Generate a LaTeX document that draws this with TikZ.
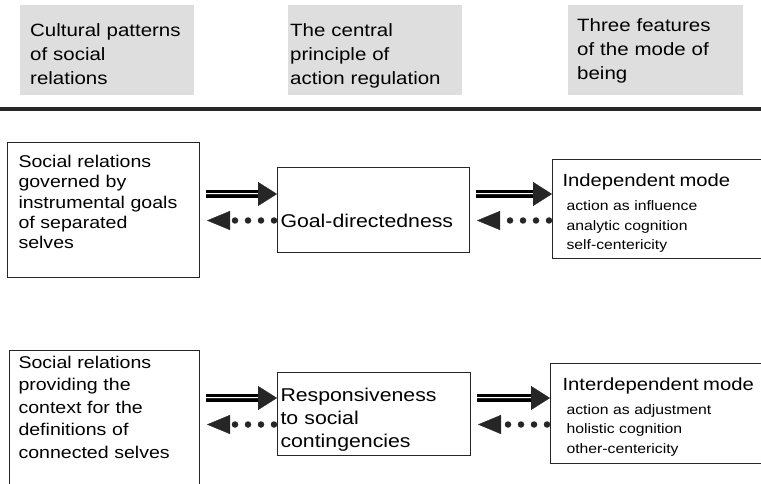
\documentclass[tikz,border=0pt]{standalone}
\usepackage{fontspec}
\setmainfont{Liberation Sans}[FakeStretch=1.15]
\usetikzlibrary{arrows.meta,calc}

\begin{document}
\begin{tikzpicture}[x=1pt, y=-1pt]
    % Define styles
    \tikzstyle{heading} = [fill=black!13, anchor=north west, align=left, minimum height=90pt, text height=14pt, font=\fontsize{17.8}{24}\selectfont]
    \tikzstyle{block} = [draw=black!85, line width=1pt, anchor=north west, align=left, inner ysep=0pt]
    \tikzstyle{relbox} = [block, text height=14pt, font=\fontsize{17}{20.3}\selectfont]
    \tikzstyle{midbox} = [block, font=\fontsize{18.5}{23}\selectfont]
    \tikzstyle{modebox} = [block, text width=200pt, text height=14pt, font=\fontsize{13.7}{19.5}\selectfont]
    \tikzstyle{rule} = [draw=black!85, line width=4pt]
    \tikzstyle{forward} = [draw=black!85, line width=0.8pt, -{Triangle[length=19pt, width=24pt, line width=0.3pt]},
        preaction={draw, -, double=white, double distance=2.4pt, line width=2.6pt, shorten >=17pt}]
    \tikzstyle{backward} = [draw=black!85, line width=6.5pt, line cap=round, dash pattern=on 0pt off 13pt,
        -{Triangle[length=23pt, width=19pt, line width=0.3pt]}]
    \newcommand{\modetitle}[1]{{\fontsize{17.6}{19.5}\selectfont #1}\\[4.5pt]}

    \useasboundingbox (0,0) rectangle (761,484);
    \clip (0,0) rectangle (761,484);

    % Column headings
    \node[heading, inner xsep=10pt, text width=154pt, text depth=41pt] (culture) at (20,5) {Cultural patterns\\of social\\relations};
    \node[heading, inner xsep=2pt, text width=170pt, text depth=41pt] (principle) at (288,5) {The central\\principle of\\action regulation};
    \node[heading, inner xsep=9pt, text width=157pt, text depth=51pt] (features) at (568,5) {Three features\\of the mode of\\being};
    \draw[rule] (0,109) -- (761,109);

    % Independent row
    \node[relbox, inner xsep=11pt, text width=170pt, minimum height=135pt, text depth=99pt] (rel1) at (7,142)
        {Social relations\\governed by\\instrumental goals\\of separated\\selves};
    \node[midbox, inner xsep=3pt, text width=186pt, minimum height=85pt, text height=40pt, text depth=5pt] (goal1) at (277,167)
        {Goal-directedness};
    \node[modebox, inner xsep=10pt, minimum height=99pt, text depth=58pt] (mode1) at (552,159)
        {\modetitle{Independent mode}
         \hspace*{4pt}action as influence\\
         \hspace*{4pt}analytic cognition\\
         \hspace*{4pt}self-centericity};

    % Interdependent row
    \node[relbox, inner xsep=9pt, text width=172pt, minimum height=140pt, text depth=118pt,
        font=\fontsize{17}{22.4}\selectfont] (rel2) at (9,350)
        {Social relations\\providing the\\context for the\\definitions of\\connected selves};
    \node[midbox, inner xsep=3pt, text width=187pt, minimum height=83pt, text height=14pt, text depth=39pt] (resp2) at (277,372)
        {Responsiveness\\to social\\contingencies};
    \node[modebox, inner xsep=12pt, minimum height=100pt, text depth=61pt] (mode2) at (550,363)
        {\modetitle{Interdependent mode}
         \hspace*{4pt}action as adjustment\\
         \hspace*{4pt}holistic cognition\\
         \hspace*{4pt}other-centericity};

    % Arrows
    \foreach \src/\dst/\row in {rel1/goal1/goal1, goal1/mode1/goal1, rel2/resp2/resp2, resp2/mode2/resp2} {
        \draw[forward] ($(\src.east |- \row.center)+(6pt,16pt)$) -- ($(\dst.west |- \row.center)+(0pt,16pt)$);
        \draw[backward] ($(\dst.west |- \row.center)+(-3pt,-10.5pt)$) -- ($(\src.east |- \row.center)+(7pt,-10.5pt)$);
    }
\end{tikzpicture}
\end{document}
